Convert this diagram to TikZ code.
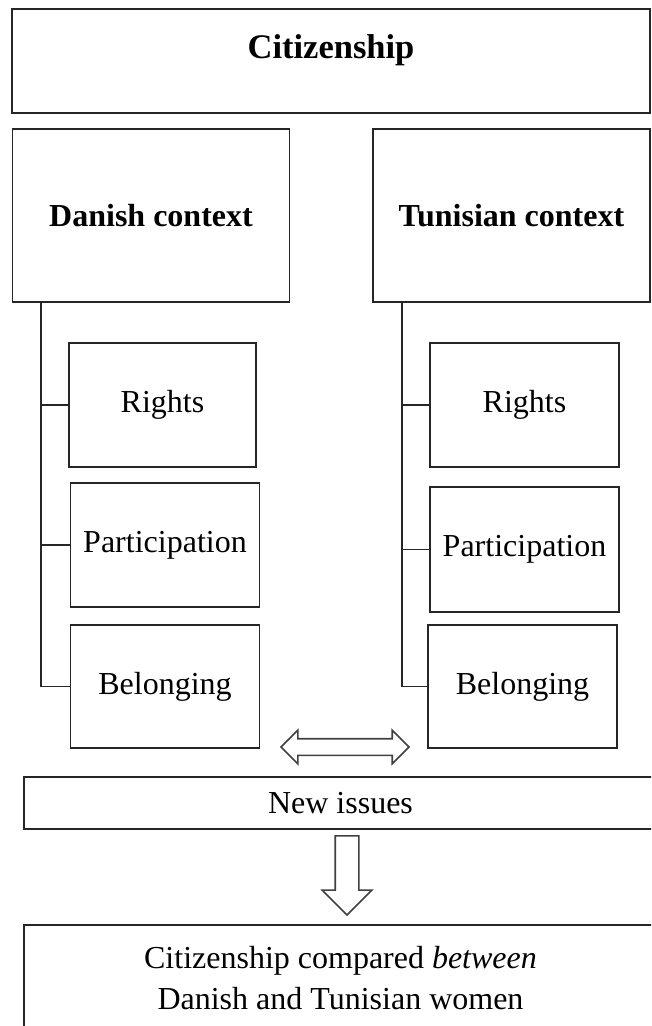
\documentclass[tikz,border=0pt]{standalone}
\usepackage{fontspec}
\setmainfont{Liberation Serif}
\usetikzlibrary{shapes.arrows}

\begin{document}
\begin{tikzpicture}[x=1pt,y=-1pt,
	box/.style={draw=black!85,line width=1.6pt,rectangle,inner sep=0pt,align=center},
	sub/.style={box,minimum width=189pt,minimum height=124pt},
	ctx/.style={box,minimum width=277pt,minimum height=173pt,font=\fontsize{32}{41}\selectfont\bfseries},
	bigarrow/.style={draw=black!75,line width=1.6pt,fill=white,inner sep=0pt},
	font=\fontsize{32}{41}\selectfont]
	\clip (0,0) rectangle (651,1026);

	\node[box,minimum width=638pt,minimum height=104pt,
		label={[font=\fontsize{34.5}{41}\selectfont\bfseries,yshift=11pt]center:Citizenship}] (cit) at (331,61) {};
	\node[ctx] (dan) at (151,215.5) {Danish context};
	\node[ctx] (tun) at (511.5,215.5) {Tunisian context};

	\node[sub,minimum width=187pt] (rd) at (162.5,405) {Rights};
	\node[sub] (pd) at (165,545) {Participation};
	\node[sub,minimum height=123pt] (bd) at (165,686.5) {Belonging};
	\node[sub] (rt) at (524.5,405) {Rights};
	\node[sub,minimum height=125pt] (pt) at (524.5,549.5) {Participation};
	\node[sub,minimum height=123pt] (bt) at (522.5,686.5) {Belonging};

	\coordinate (dspine) at (41,302);
	\coordinate (tspine) at (402,302);
	\draw[black!85,line width=1.6pt] (dspine) |- (bd.west);
	\draw[black!85,line width=1.6pt] (dspine |- rd.west) -- (rd.west)
		(dspine |- pd.west) -- (pd.west);
	\draw[black!85,line width=1.6pt] (tspine) |- (bt.west);
	\draw[black!85,line width=1.6pt] (tspine |- rt.west) -- (rt.west)
		(tspine |- pt.west) -- (pt.west);

	\node[bigarrow,double arrow,minimum height=128pt,minimum width=32pt,
		text height=7.5pt,text depth=7.5pt,double arrow head extend=8.5pt] (both) at (345,747) {};

	\node[box,minimum width=633pt,minimum height=52pt] (news) at (340.5,803) {New issues};
	\node[bigarrow,single arrow,rotate=270,minimum height=79pt,minimum width=48pt,
		text height=11pt,text depth=11pt,single arrow head extend=13pt] (down) at (347,869.5) {};
	\node[box,minimum width=633pt,minimum height=106pt] (cmp) at (340.5,978)
		{Citizenship compared \emph{between}\\Danish and Tunisian women};
\end{tikzpicture}
\end{document}
